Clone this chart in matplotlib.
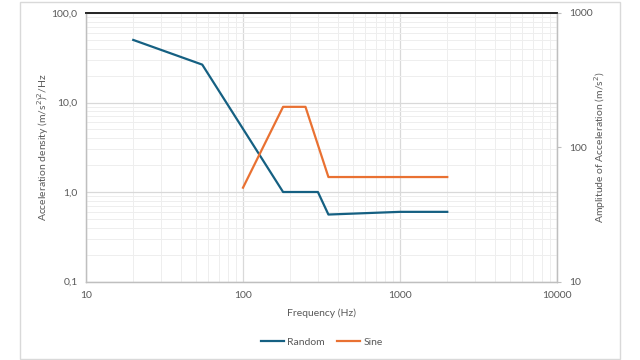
import matplotlib
matplotlib.use("Agg")
import matplotlib.pyplot as plt
from matplotlib.ticker import FixedLocator, FixedFormatter, LogLocator, NullFormatter, NullLocator
from matplotlib.patches import Rectangle

# Data
random_freq = [20, 55, 180, 300, 350, 1000, 2000]
random_psd = [50, 26.5, 1.0, 1.0, 0.56, 0.6, 0.6]
sine_freq = [100, 180, 250, 350, 2000]
sine_amp = [50, 200, 200, 60, 60]

left_ticks = [0.1, 1, 10, 100]
left_labels = ["0,1", "1,0", "10,0", "100,0"]
right_ticks = [10, 100, 1000]
right_labels = ["10", "100", "1000"]
x_ticks = [10, 100, 1000, 10000]
x_labels = ["10", "100", "1000", "10000"]

plt.rcParams['font.family'] = ['Lato', 'DejaVu Sans']
txt = "#595959"
c_random = "#156082"
c_sine = "#E97132"

fig = plt.figure(figsize=(6.4, 3.6), dpi=100)
fig.patches.append(Rectangle((20/640, 1/360), 600/640, 357/360, transform=fig.transFigure,
                             fill=False, edgecolor="#d9d9d9", linewidth=1.0))
ax = fig.add_axes([86/640, 1-281.5/360, 471/640, 268.5/360])
ax2 = ax.twinx()

ax.set_xscale('log')
ax.set_yscale('log')
ax2.set_yscale('log')
ax.set_xlim(10, 10000)
ax.set_ylim(0.1, 100)
ax2.set_ylim(10, 1000)

ax.plot(random_freq, random_psd, color=c_random, lw=1.6, label="Random", zorder=3)
ax2.plot(sine_freq, sine_amp, color=c_sine, lw=1.6, label="Sine", zorder=3)

# Grid
ax.xaxis.set_major_locator(FixedLocator(x_ticks))
ax.xaxis.set_major_formatter(FixedFormatter(x_labels))
ax.xaxis.set_minor_locator(LogLocator(base=10, subs=range(2, 10)))
ax.xaxis.set_minor_formatter(NullFormatter())
ax.yaxis.set_major_locator(FixedLocator(left_ticks))
ax.yaxis.set_major_formatter(FixedFormatter(left_labels))
ax.yaxis.set_minor_locator(LogLocator(base=10, subs=range(2, 10)))
ax.yaxis.set_minor_formatter(NullFormatter())
ax2.yaxis.set_major_locator(FixedLocator(right_ticks))
ax2.yaxis.set_major_formatter(FixedFormatter(right_labels))
ax2.yaxis.set_minor_locator(NullLocator())

ax.grid(True, which='major', color="#d9d9d9", lw=0.9)
ax.grid(True, which='minor', color="#eeeeee", lw=0.7)
ax.set_axisbelow(True)

ax.tick_params(axis='both', which='both', length=0, labelsize=7.5, labelcolor=txt, pad=6)
ax.tick_params(axis='x', pad=7)
ax2.tick_params(axis='y', which='major', length=3, color="#bfbfbf", labelsize=7.5, labelcolor=txt, pad=6)

for a in (ax, ax2):
    for s in ('left', 'right', 'bottom'):
        a.spines[s].set_color("#bfbfbf")
        a.spines[s].set_linewidth(0.9)
    a.spines['top'].set_color("#262626")
    a.spines['top'].set_linewidth(1.3)

ax.set_xlabel("Frequency (Hz)", fontsize=7.5, color=txt, labelpad=6)
ax.set_ylabel("Acceleration density (m/s$^2$)$^2$/Hz", fontsize=7.5, color=txt, labelpad=0.5)
ax2.set_ylabel("Amplitude of Acceleration (m/s$^2$)", fontsize=7.5, color=txt, labelpad=-1)

h1, l1 = ax.get_legend_handles_labels()
h2, l2 = ax2.get_legend_handles_labels()
leg = fig.legend(h1 + h2, l1 + l2, loc='center', bbox_to_anchor=(322/640, 1-342/360), ncol=2,
                 frameon=False, fontsize=7.5, handlelength=2.2, columnspacing=1.2, handletextpad=0.3)
for t in leg.get_texts():
    t.set_color(txt)

fig.savefig("out.png", dpi=100)
